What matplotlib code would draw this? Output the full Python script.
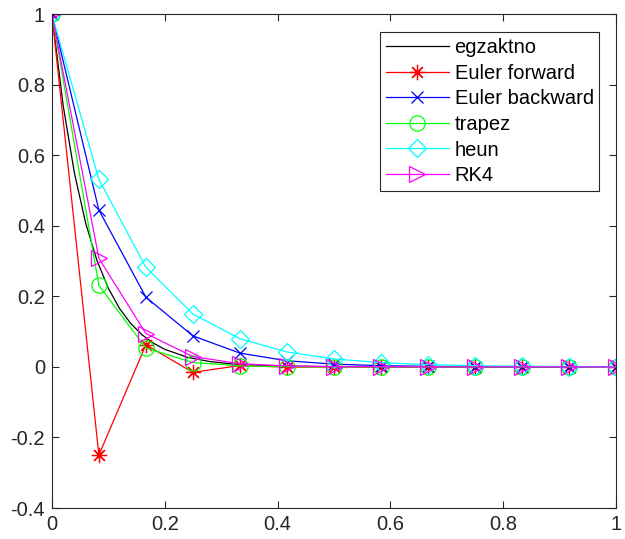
import numpy as np
import matplotlib
matplotlib.use("agg")
import matplotlib.pyplot as plt

matplotlib.rcParams.update({"font.family": ["Liberation Sans", "DejaVu Sans"], "font.size": 14.5})

# time grid of the numerical schemes (h = 1/12)
t = [0, 1/12, 2/12, 3/12, 4/12, 5/12, 6/12, 7/12, 8/12, 9/12, 10/12, 11/12, 1]

# exact solution on a finer grid
t_ex = [0, 0.02, 0.04, 0.06, 0.08, 0.10, 0.12, 0.14, 0.16, 0.18, 0.20, 0.24, 0.28,
        0.32, 0.36, 0.40, 0.50, 0.60, 0.80, 1.0]
y_ex = [1.0, 0.7408, 0.5488, 0.4066, 0.3012, 0.2231, 0.1653, 0.1225, 0.0907, 0.0672,
        0.0498, 0.0273, 0.0150, 0.0082, 0.0045, 0.0025, 0.00055, 0.0001, 0.0, 0.0]

y_ef = [1.0, -0.25, 0.0625, -0.0156, 0.0039, -0.0010, 0.0002, -0.0001, 0.0, 0.0, 0.0, 0.0, 0.0]
y_eb = [1.0, 0.4444, 0.1975, 0.0878, 0.0390, 0.0173, 0.0077, 0.0034, 0.0015, 0.0007,
        0.0003, 0.0001, 0.0001]
y_tr = [1.0, 0.2308, 0.0533, 0.0123, 0.0028, 0.0007, 0.0002, 0.0, 0.0, 0.0, 0.0, 0.0, 0.0]
y_he = [1.0, 0.5313, 0.2822, 0.1499, 0.0797, 0.0423, 0.0225, 0.0120, 0.0063, 0.0034,
        0.0018, 0.0010, 0.0005]
y_rk = [1.0, 0.3075, 0.0945, 0.0291, 0.0089, 0.0027, 0.0008, 0.0003, 0.0001, 0.0, 0.0, 0.0, 0.0]

fig = plt.figure(figsize=(6.25, 5.39), dpi=100)
ax = fig.add_axes([0.083, 0.0575, 0.9026, 0.9165])

lw = 0.9
ax.plot(t_ex, y_ex, color='k', lw=lw, label='egzaktno')
ax.plot(t, y_ef, color=(1, 0, 0), lw=lw, marker=(8, 2, 0), ms=11, mew=0.9, label='Euler forward')
ax.plot(t, y_eb, color=(0, 0, 1), lw=lw, marker='x', ms=8, mew=0.9, label='Euler backward')
ax.plot(t, y_tr, color=(0, 1, 0), lw=lw, marker='o', ms=11, mfc='none', mew=0.9, label='trapez')
ax.plot(t, y_he, color=(0, 1, 1), lw=lw, marker='D', ms=9, mfc='none', mew=0.9, label='heun')
ax.plot(t, y_rk, color=(1, 0, 1), lw=lw, marker='>', ms=11, mfc='none', mew=0.9, label='RK4')

ax.set_xlim(0, 1)
ax.set_ylim(-0.4, 1)
ax.set_xticks([0, 0.2, 0.4, 0.6, 0.8, 1])
ax.set_xticklabels(['0', '0.2', '0.4', '0.6', '0.8', '1'])
ax.set_yticks([-0.4, -0.2, 0, 0.2, 0.4, 0.6, 0.8, 1])
ax.set_yticklabels(['-0.4', '-0.2', '0', '0.2', '0.4', '0.6', '0.8', '1'])
ax.tick_params(direction='in', top=True, right=True, length=5, width=0.8,
               colors=(0.15, 0.15, 0.15), labelcolor=(0.15, 0.15, 0.15), labelsize=14.5, pad=5)
for s in ax.spines.values():
    s.set_color((0.15, 0.15, 0.15))
    s.set_linewidth(0.8)

leg = ax.legend(loc='upper right', bbox_to_anchor=(0.9705, 0.963), fancybox=False,
                framealpha=1, edgecolor=(0.15, 0.15, 0.15), fontsize=14.5,
                handlelength=3.1, labelspacing=0.33, borderpad=0.28, handletextpad=0.3,
                borderaxespad=0)
leg.get_frame().set_linewidth(0.8)

fig.savefig("out.png", dpi=100)
